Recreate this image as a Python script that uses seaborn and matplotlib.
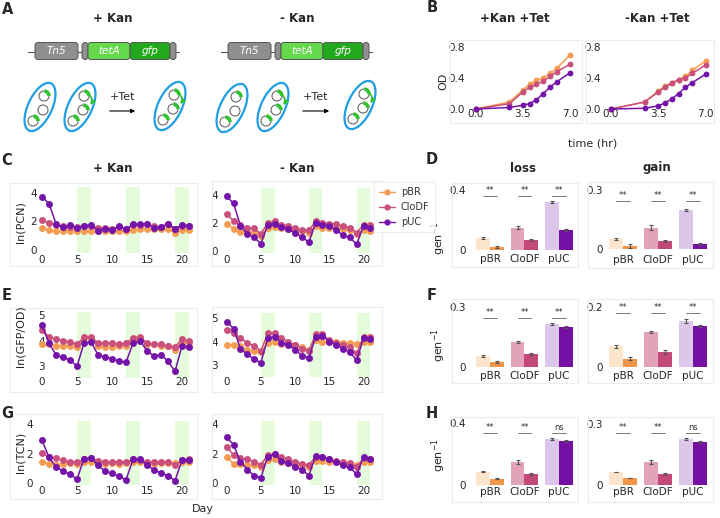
import numpy as np
import pandas as pd
import matplotlib
matplotlib.use("Agg")
import matplotlib.pyplot as plt
import seaborn as sns
from matplotlib.patches import FancyBboxPatch, Ellipse, Circle, Arc, FancyArrowPatch
from matplotlib.lines import Line2D

sns.set_style("white")
plt.rcParams["font.family"] = ["DejaVu Sans"]

# ---------------- data ----------------
plasmids = ["pBR", "CloDF", "pUC"]
days = list(range(22))
hours = [0, 2.5, 3.5, 4, 4.5, 5, 5.5, 6, 7]

# B: OD growth curves
od_kan_pBR = [0.0, 0.09, 0.245, 0.32, 0.375, 0.40, 0.46, 0.525, 0.70]
od_kan_CloDF = [0.0, 0.07, 0.22, 0.28, 0.32, 0.36, 0.42, 0.48, 0.58]
od_kan_pUC = [0.0, 0.02, 0.05, 0.07, 0.12, 0.20, 0.28, 0.35, 0.47]
od_nokan_pBR = [0.0, 0.09, 0.23, 0.30, 0.34, 0.38, 0.42, 0.50, 0.62]
od_nokan_CloDF = [0.0, 0.09, 0.22, 0.28, 0.33, 0.38, 0.40, 0.46, 0.57]
od_nokan_pUC = [0.0, 0.01, 0.04, 0.08, 0.13, 0.20, 0.28, 0.34, 0.45]

# C: ln(PCN)
pcn_kan_pBR = [1.55, 1.4, 1.3, 1.3, 1.3, 1.3, 1.35, 1.35, 1.3, 1.3, 1.35, 1.35, 1.3, 1.4, 1.45, 1.5, 1.45, 1.45, 1.5, 1.2, 1.4, 1.4]
pcn_kan_CloDF = [2.1, 1.9, 1.75, 1.65, 1.6, 1.6, 1.7, 1.7, 1.55, 1.55, 1.5, 1.6, 1.45, 1.75, 1.75, 1.8, 1.65, 1.6, 1.8, 1.45, 1.7, 1.65]
pcn_kan_pUC = [3.75, 3.25, 1.85, 1.6, 1.75, 1.55, 1.7, 1.75, 1.35, 1.5, 1.4, 1.65, 1.45, 1.8, 1.8, 1.85, 1.55, 1.6, 1.85, 1.5, 1.75, 1.7]
pcn_nokan_pBR = [1.95, 1.55, 1.35, 1.35, 1.3, 1.05, 1.6, 1.7, 1.6, 1.55, 1.5, 1.4, 1.3, 1.75, 1.6, 1.6, 1.6, 1.55, 1.5, 1.2, 1.5, 1.4]
pcn_nokan_CloDF = [2.6, 2.15, 1.85, 1.65, 1.6, 1.2, 2.0, 2.1, 1.85, 1.8, 1.6, 1.5, 1.45, 2.1, 2.0, 1.95, 1.9, 1.75, 1.65, 1.3, 1.85, 1.85]
pcn_nokan_pUC = [3.9, 3.4, 1.8, 1.2, 0.95, 0.5, 1.85, 1.95, 1.7, 1.55, 1.25, 1.0, 0.6, 2.0, 1.85, 1.8, 1.5, 1.1, 0.95, 0.45, 1.8, 1.6]

# E: ln(GFP/OD)
gfp_kan_pBR = [3.85, 3.85, 3.8, 3.8, 3.8, 3.75, 4.1, 4.1, 3.8, 3.75, 3.75, 3.8, 3.8, 4.0, 4.1, 3.85, 3.85, 3.8, 3.8, 3.65, 3.95, 3.9]
gfp_kan_CloDF = [4.4, 4.15, 4.05, 4.0, 3.95, 3.85, 4.15, 4.15, 3.9, 3.9, 3.9, 3.85, 3.9, 4.1, 4.15, 3.9, 3.85, 3.85, 3.8, 3.75, 4.05, 4.0]
gfp_kan_pUC = [4.6, 3.9, 3.45, 3.35, 3.25, 3.0, 3.9, 3.95, 3.45, 3.35, 3.3, 3.2, 3.15, 3.9, 4.0, 3.6, 3.4, 3.45, 3.2, 2.8, 3.8, 3.75]
gfp_nokan_pBR = [3.85, 3.85, 3.8, 3.65, 3.6, 3.55, 3.95, 4.0, 3.9, 3.9, 3.85, 3.75, 3.65, 4.05, 4.0, 4.0, 4.0, 3.95, 3.95, 3.9, 4.0, 4.0]
gfp_nokan_CloDF = [4.5, 4.35, 4.15, 3.95, 3.8, 3.6, 4.35, 4.35, 4.15, 4.0, 3.85, 3.7, 3.6, 4.3, 4.3, 4.05, 3.95, 3.85, 3.75, 3.5, 4.2, 4.2]
gfp_nokan_pUC = [4.85, 4.55, 3.7, 3.45, 3.25, 3.1, 4.15, 4.2, 3.95, 3.85, 3.65, 3.4, 3.3, 4.2, 4.25, 4.0, 3.85, 3.7, 3.55, 3.2, 4.15, 4.1]

# G: ln(TCN)
tcn_kan_pBR = [1.45, 1.3, 1.25, 1.3, 1.35, 1.3, 1.4, 1.45, 1.3, 1.3, 1.35, 1.3, 1.35, 1.4, 1.45, 1.3, 1.3, 1.35, 1.35, 1.35, 1.4, 1.4]
tcn_kan_CloDF = [2.05, 1.75, 1.7, 1.55, 1.45, 1.4, 1.6, 1.7, 1.5, 1.45, 1.4, 1.45, 1.4, 1.6, 1.55, 1.45, 1.4, 1.45, 1.45, 1.2, 1.55, 1.6]
tcn_kan_pUC = [2.9, 1.75, 1.1, 0.8, 0.6, 0.25, 1.65, 1.7, 1.2, 0.8, 0.65, 0.45, 0.2, 1.6, 1.6, 1.2, 0.9, 0.65, 0.5, 0.15, 1.55, 1.55]
tcn_nokan_pBR = [1.8, 1.3, 1.3, 1.25, 1.2, 1.05, 1.55, 1.6, 1.45, 1.35, 1.25, 1.2, 1.1, 1.5, 1.5, 1.45, 1.4, 1.35, 1.3, 1.25, 1.4, 1.4]
tcn_nokan_CloDF = [2.45, 1.9, 1.7, 1.6, 1.45, 1.25, 1.9, 1.95, 1.75, 1.6, 1.45, 1.3, 1.2, 1.8, 1.75, 1.6, 1.5, 1.4, 1.35, 1.1, 1.7, 1.65]
tcn_nokan_pUC = [3.1, 2.6, 1.45, 0.9, 0.5, 0.35, 1.8, 1.95, 1.5, 1.35, 1.1, 0.9, 0.5, 1.85, 1.75, 1.6, 1.4, 1.2, 1.05, 0.6, 1.75, 1.65]

shade_days = [(5, 7), (12, 14), (19, 21)]

# D/F/H bar data (light = first bar, dark = second bar)
d_loss_light = [0.08, 0.147, 0.32];  d_loss_dark = [0.02, 0.067, 0.133]
d_loss_light_err = [0.004, 0.01, 0.006];  d_loss_dark_err = [0.008, 0.005, 0.006]
d_gain_light = [0.05, 0.107, 0.198];  d_gain_dark = [0.015, 0.04, 0.025]
d_gain_light_err = [0.006, 0.012, 0.007];  d_gain_dark_err = [0.01, 0.004, 0.006]
f_loss_light = [0.055, 0.125, 0.215];  f_loss_dark = [0.025, 0.065, 0.2]
f_loss_light_err = [0.004, 0.005, 0.004];  f_loss_dark_err = [0.003, 0.005, 0.004]
f_gain_light = [0.07, 0.117, 0.153];  f_gain_dark = [0.027, 0.05, 0.137]
f_gain_light_err = [0.005, 0.004, 0.007];  f_gain_dark_err = [0.005, 0.006, 0.003]
h_loss_light = [0.084, 0.148, 0.297];  h_loss_dark = [0.039, 0.071, 0.284]
h_loss_light_err = [0.003, 0.012, 0.005];  h_loss_dark_err = [0.003, 0.006, 0.006]
h_gain_light = [0.064, 0.113, 0.226];  h_gain_dark = [0.034, 0.054, 0.211]
h_gain_light_err = [0.002, 0.01, 0.005];  h_gain_dark_err = [0.002, 0.005, 0.005]
sig_df = ["**", "**", "**"]
sig_h = ["**", "**", "ns"]

# ---------------- styling ----------------
pal = {"pBR": "#f39c52", "CloDF": "#c94f7c", "pUC": "#7414a8"}
light_cols = ["#fde4cd", "#e2a3ba", "#dcc6e9"]
dark_cols = ["#f0954a", "#c34a78", "#7410a4"]
frame_col = "#ececec"
span_col = "#e4fbdc"

W, H = 720, 518
fig = plt.figure(figsize=(7.2, 5.18), dpi=100)


def add_ax(x0, y0, x1, y1):
    ax = fig.add_axes([x0 / W, 1 - y1 / H, (x1 - x0) / W, (y1 - y0) / H])
    for s in ax.spines.values():
        s.set_color(frame_col)
        s.set_linewidth(0.8)
    return ax


def ftext(x, y, s, **kw):
    fig.text(x / W, 1 - y / H, s, **kw)


def long_df(xs, series):
    rows = []
    for name, vals in zip(plasmids, series):
        for x, v in zip(xs, vals):
            rows.append((x, v, name))
    return pd.DataFrame(rows, columns=["x", "value", "plasmid"])


def line_panel(box, series, xlim, ylim, span, yticks, ypad, xpad):
    ax = add_ax(*box)
    for a, b in shade_days:
        ax.fill_between([a, b], span[0], span[1], color=span_col, lw=0, zorder=0)
    df = long_df(days, series)
    sns.lineplot(data=df, x="x", y="value", hue="plasmid", hue_order=plasmids,
                 palette=pal, marker="o", markersize=5, markeredgewidth=0,
                 linewidth=1.1, ax=ax, legend=False)
    ax.set_xlim(xlim)
    ax.set_ylim(ylim)
    ax.set_xticks([0, 5, 10, 15, 20])
    ax.set_yticks(yticks)
    ax.tick_params(axis="y", pad=-ypad * 0.72, length=0, labelsize=7.5, labelcolor="#262626")
    ax.tick_params(axis="x", pad=-xpad * 0.72, length=0, labelsize=7.5, labelcolor="#262626")
    ax.set_xlabel("")
    ax.set_ylabel("")
    return ax


def growth_panel(box, series, xlim):
    ax = add_ax(*box)
    df = long_df(hours, series)
    sns.lineplot(data=df, x="x", y="value", hue="plasmid", hue_order=plasmids,
                 palette=pal, marker="o", markersize=4.2, markeredgewidth=0,
                 linewidth=1.1, ax=ax, legend=False)
    ax.set_xlim(xlim)
    ax.set_ylim(-0.18, 0.89)
    ax.set_xticks([0, 3.5, 7])
    ax.set_xticklabels(["0.0", "3.5", "7.0"])
    ax.set_yticks([0, 0.4, 0.8])
    ax.set_yticklabels(["0.0", "0.4", "0.8"])
    ax.tick_params(axis="y", pad=-15 * 0.72, length=0, labelsize=7.5, labelcolor="#262626")
    ax.tick_params(axis="x", pad=-14 * 0.72, length=0, labelsize=7.5, labelcolor="#262626")
    ax.set_xlabel("")
    ax.set_ylabel("")
    return ax


def bar_panel(box, light, dark, lerr, derr, xlim, ylim, ytop, sig, sig_y, ypad, xpad):
    ax = add_ax(*box)
    df = pd.DataFrame({"plasmid": plasmids * 2,
                       "cond": ["light"] * 3 + ["dark"] * 3,
                       "rate": list(light) + list(dark)})
    sns.barplot(data=df, x="plasmid", y="rate", hue="cond", order=plasmids,
                hue_order=["light", "dark"], errorbar=None, width=0.8,
                saturation=1, legend=False, ax=ax)
    conts = list(ax.containers)
    for ci, cont in enumerate(conts):
        cols = light_cols if ci == 0 else dark_cols
        errs = lerr if ci == 0 else derr
        for bi, bar in enumerate(cont.patches):
            bar.set_facecolor(cols[bi])
            bar.set_edgecolor("none")
            xc = bar.get_x() + bar.get_width() / 2
            ax.errorbar(xc, bar.get_height(), yerr=errs[bi], color="#555555",
                        capsize=1.5, elinewidth=0.8, capthick=0.8)
    ax.set_xlim(xlim)
    ax.set_ylim(ylim)
    hpx = (box[3] - box[1])
    dy = (ylim[1] - ylim[0]) / hpx
    for i, s in enumerate(sig):
        ax.plot([i - 0.2, i + 0.2], [sig_y, sig_y], color="#777777", lw=0.7)
        ax.text(i, sig_y + 1.0 * dy, s, ha="center", va="bottom", fontsize=6, color="#333333")
    ax.set_yticks([0, ytop])
    ax.set_yticklabels(["0", f"{ytop:g}"])
    ax.tick_params(axis="y", pad=-ypad * 0.72, length=0, labelsize=7.5, labelcolor="#262626")
    ax.tick_params(axis="x", pad=-xpad * 0.72, length=0, labelsize=7.5, labelcolor="#262626")
    ax.set_xlabel("")
    ax.set_ylabel("")
    return ax


# ---------------- panel A schematic ----------------
ax0 = fig.add_axes([0, 0, 1, 1])
ax0.set_xlim(0, W)
ax0.set_ylim(H, 0)
ax0.axis("off")

grey_f, grey_e = "#8f8f8f", "#555555"
tet_col, gfp_col = "#66d84c", "#22a81c"
blue = "#1f9ee3"
gcol = "#2fc42f"


def rbox(x0, x1, yc, h, fc, txt=None):
    p = FancyBboxPatch((x0, yc - h / 2), x1 - x0, h, boxstyle="round,pad=0,rounding_size=3",
                       fc=fc, ec=grey_e, lw=0.7, zorder=3)
    ax0.add_patch(p)
    if txt:
        ax0.text((x0 + x1) / 2, yc, txt, ha="center", va="center", color="white",
                 fontsize=7.5, style="italic", zorder=4)


def construct(dx):
    ax0.plot([28 + dx, 179 + dx], [52, 52], color="#555555", lw=0.8, zorder=2)
    rbox(35 + dx, 78 + dx, 51, 17, grey_f, "Tn5")
    rbox(82 + dx, 88 + dx, 51, 17, grey_f)
    rbox(88 + dx, 130 + dx, 51, 17, tet_col, "tetA")
    rbox(130 + dx, 170 + dx, 51, 17, gfp_col, "gfp")
    rbox(170 + dx, 176 + dx, 51, 17, grey_f)


def plasmid(x, y, green):
    ax0.add_patch(Circle((x, y), 5, fc="white", ec="#666666", lw=0.8, zorder=4))
    if green:
        ax0.add_patch(Arc((x, y), 10, 10, theta1=-85, theta2=0, color=gcol, lw=2.6, zorder=5))


def cell(cx, cy, greens, curved):
    ax0.add_patch(Ellipse((cx, cy), 24, 52, angle=25, fc="white", ec=blue, lw=1.6, zorder=3))
    pos = [(cx + 4, cy - 11), (cx + 3, cy + 3), (cx - 7, cy + 14)]
    for (px, py), g in zip(pos, greens):
        plasmid(px, py, g)
    if curved:
        arr = FancyArrowPatch((pos[0][0] + 4, pos[0][1] - 2), (pos[1][0] + 5, pos[1][1] - 3),
                              connectionstyle="arc3,rad=-0.6", arrowstyle="-|>",
                              mutation_scale=6, color=gcol, lw=1.3, zorder=6)
        ax0.add_patch(arr)


for dx in (0, 193):
    construct(dx)
cell(40, 107, [True, False, True], False)
cell(80, 107, [True, True, True], True)
cell(170, 106, [True, True, True], True)
cell(232, 108, [True, False, True], False)
cell(273, 107, [True, True, True], True)
cell(360, 105, [True, True, True], True)
for x0, x1 in ((107, 138), (300, 332)):
    ax0.annotate("", xy=(x1, 111), xytext=(x0, 111),
                 arrowprops=dict(arrowstyle="-|>", color="black", lw=0.8, mutation_scale=6))
    ftext((x0 + x1) / 2, 97, "+Tet", ha="center", va="center", fontsize=8)

# ---------------- panel B ----------------
growth_panel((450, 40, 582, 123), [od_kan_pBR, od_kan_CloDF, od_kan_pUC], (-1.9, 7.87))
growth_panel((586, 40, 714, 123), [od_nokan_pBR, od_nokan_CloDF, od_nokan_pUC], (-1.8, 7.6))

# ---------------- panels C, E, G ----------------
line_panel((10, 183, 197, 266), [pcn_kan_pBR, pcn_kan_CloDF, pcn_kan_pUC],
           (-4.57, 22.14), (-1.14, 4.71), (-0.2, 4.4), [0, 2, 4], 27, 11)
line_panel((212, 181, 382, 266), [pcn_nokan_pBR, pcn_nokan_CloDF, pcn_nokan_pUC],
           (-2.15, 22.7), (-1.1, 5.0), (-0.15, 4.5), [0, 2, 4], 6, 11)
line_panel((10, 308, 197, 392), [gfp_kan_pBR, gfp_kan_CloDF, gfp_kan_pUC],
           (-4.57, 22.14), (2.0, 5.27), (2.56, 5.1), [3, 4, 5], 35, 15)
line_panel((212, 307, 382, 392), [gfp_nokan_pBR, gfp_nokan_CloDF, gfp_nokan_pUC],
           (-2.15, 22.7), (1.85, 5.47), (2.5, 5.2), [3, 4, 5], 6, 15)
line_panel((10, 414, 197, 499), [tcn_kan_pBR, tcn_kan_CloDF, tcn_kan_pUC],
           (-4.57, 22.14), (-1.1, 4.7), (-0.15, 4.2), [0, 2, 4], 23, 13)
line_panel((212, 414, 382, 499), [tcn_nokan_pBR, tcn_nokan_CloDF, tcn_nokan_pUC],
           (-2.15, 22.7), (-1.1, 4.7), (-0.15, 4.2), [0, 2, 4], 6, 13)

handles = [Line2D([0], [0], color=pal[p], marker="o", markersize=4.5, markeredgewidth=0, lw=1)
           for p in plasmids]
leg = fig.legend(handles, plasmids, loc="upper left", bbox_to_anchor=(374 / W, 1 - 182 / H),
                 fontsize=7, frameon=True, fancybox=False, handlelength=1.6,
                 borderpad=0.55, labelspacing=0.5, handletextpad=0.6, borderaxespad=0)
leg.get_frame().set_edgecolor(frame_col)
leg.get_frame().set_linewidth(0.8)
for t in leg.get_texts():
    t.set_color("#333333")

# ---------------- panels D, F, H ----------------
bar_panel((452, 183, 578, 267), d_loss_light, d_loss_dark, d_loss_light_err, d_loss_dark_err,
          (-1.1, 2.55), (-0.113, 0.447), 0.4, sig_df, 0.36, 14, 13)
bar_panel((588, 182, 713, 268), d_gain_light, d_gain_dark, d_gain_light_err, d_gain_dark_err,
          (-1.0, 2.57), (-0.097, 0.34), 0.3, sig_df, 0.245, 15, 13)
bar_panel((452, 299, 578, 383), f_loss_light, f_loss_dark, f_loss_light_err, f_loss_dark_err,
          (-1.1, 2.55), (-0.08, 0.34), 0.3, sig_df, 0.245, 14, 12)
bar_panel((588, 299, 713, 383), f_gain_light, f_gain_dark, f_gain_light_err, f_gain_dark_err,
          (-1.0, 2.57), (-0.053, 0.227), 0.2, sig_df, 0.18, 15, 12)
bar_panel((452, 417, 578, 502), h_loss_light, h_loss_dark, h_loss_light_err, h_loss_dark_err,
          (-1.1, 2.55), (-0.11, 0.439), 0.4, sig_h, 0.335, 14, 15)
bar_panel((588, 417, 713, 502), h_gain_light, h_gain_dark, h_gain_light_err, h_gain_dark_err,
          (-1.0, 2.57), (-0.084, 0.335), 0.3, sig_h, 0.256, 15, 15)

# ---------------- texts ----------------
for lbl, x, y in [("A", 8, 9), ("B", 432, 8), ("C", 7, 161), ("D", 432, 160),
                  ("E", 7, 295), ("F", 432, 295), ("G", 7, 413), ("H", 432, 413)]:
    ftext(x, y, lbl, ha="center", va="center", fontsize=10.5, fontweight="bold")

tkw = dict(ha="center", va="center", fontsize=8.5, fontweight="bold")
ftext(113, 18, "+ Kan", **tkw)
ftext(297, 18, "- Kan", **tkw)
ftext(515, 18, "+Kan +Tet", **tkw)
ftext(657, 18, "-Kan +Tet", **tkw)
ftext(113, 168, "+ Kan", **tkw)
ftext(297, 168, "- Kan", **tkw)
ftext(523, 168, "loss", **tkw)
ftext(657, 168, "gain", **tkw)

ykw = dict(ha="center", va="center", rotation=90, fontsize=8, color="#262626")
ftext(443, 81, "OD", **ykw)
ftext(20, 222, "ln(PCN)", **ykw)
ftext(21, 336, "ln(GFP/OD)", **ykw)
ftext(21, 452, "ln(TCN)", **ykw)
ftext(439, 238, r"gen$^{-1}$", **ykw)
ftext(439, 345, r"gen$^{-1}$", **ykw)
ftext(439, 455, r"gen$^{-1}$", **ykw)
ftext(593, 143, "time (hr)", ha="center", va="center", fontsize=8, color="#262626")
ftext(203, 509, "Day", ha="center", va="center", fontsize=8, color="#262626")

fig.savefig("out.png", dpi=100)
